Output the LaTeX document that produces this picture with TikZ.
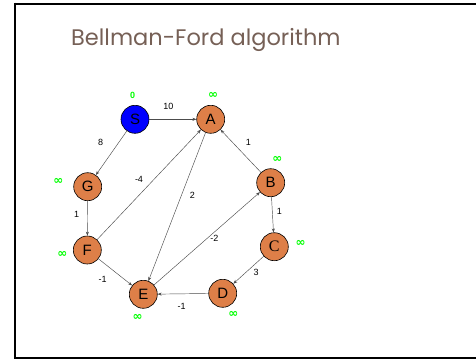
\documentclass[tikz,border=0pt]{standalone}
\usepackage{fontspec}
\setmainfont{Liberation Sans}
\newfontfamily\titlefont{Poppins}
\newfontfamily\serifnode{Liberation Serif}
\newfontfamily\symfont{DejaVu Sans}
\usetikzlibrary{arrows.meta}
\definecolor{nodeorange}{RGB}{222,127,72}
\definecolor{titlebrown}{RGB}{118,96,86}
\definecolor{infgreen}{RGB}{0,255,0}
\newcommand{\infsym}{{\symfont\bfseries\fontsize{12}{12}\selectfont ∞}}
\begin{document}
\begin{tikzpicture}[x=1pt,y=-1pt,
  vtx/.style={circle,draw=black,line width=0.6pt,fill=nodeorange,minimum size=28pt,inner sep=0pt,font=\fontsize{15}{15}\selectfont},
  src/.style={vtx,fill=blue},
  edge/.style={draw=black!70,line width=0.45pt,-{Stealth[length=4pt,width=3pt]}},
  wlab/.style={font=\fontsize{9}{9}\selectfont,inner sep=0pt},
  inflab/.style={font=\fontsize{9}{9}\selectfont\bfseries,text=infgreen,inner sep=0pt}]
\useasboundingbox (0,0) rectangle (476,359);
\draw[line width=2pt] (15,3.5) -- (480,3.5);
\draw[line width=2pt] (15,2.5) -- (15,357.5);
\draw[line width=2pt] (14,357.5) -- (480,357.5);
\node[anchor=west,text=titlebrown,font=\titlefont\fontsize{22.5}{22.5}\selectfont,inner sep=0pt] (title) at (71,40) {Bellman-Ford algorithm};
\node[src] (S) at (135,119.3) {S};
\node[vtx] (A) at (210.7,119.3) {A};
\node[vtx] (G) at (87.7,186.7) {G};
\node[vtx] (B) at (270.7,182.7) {B};
\node[vtx] (F) at (87.3,250) {F};
\node[vtx,font=\serifnode\fontsize{16}{16}\selectfont] (C) at (274.3,246.7) {C};
\node[vtx] (E) at (143.3,294.3) {E};
\node[vtx] (D) at (222.7,293.3) {D};
\draw[edge] (S) -- (A);
\draw[edge] (S) -- (G);
\draw[edge] (G) -- (F);
\draw[edge] (F) -- (A);
\draw[edge] (A) -- (E);
\draw[edge] (B) -- (A);
\draw[edge] (B) -- (C);
\draw[edge] (C) -- (D);
\draw[edge] (D) -- (E);
\draw[edge] (F) -- (E);
\draw[edge] (E) -- (B);
\node[wlab] (l10) at (168.3,106.7) {10};
\node[wlab] (l8) at (100.7,142.7) {8};
\node[wlab] (lm4) at (139,179.3) {-4};
\node[wlab] (l2) at (192.3,195) {2};
\node[wlab] (l1a) at (248.3,142.7) {1};
\node[wlab] (l1b) at (76.7,214.3) {1};
\node[wlab] (l1c) at (279.3,211.7) {1};
\node[wlab] (lm2) at (214.3,238.3) {-2};
\node[wlab] (l3) at (256,272.7) {3};
\node[wlab] (lm1a) at (102.7,279) {-1};
\node[wlab] (lm1b) at (181.7,306) {-1};
\node[inflab] (iS) at (132.7,95) {0};
\node[inflab] (iA) at (213,95) {\infsym};
\node[inflab] (iG) at (58.3,181.7) {\infsym};
\node[inflab] (iB) at (277.3,159) {\infsym};
\node[inflab] (iC) at (300.7,243.3) {\infsym};
\node[inflab] (iD) at (233.3,314.3) {\infsym};
\node[inflab] (iE) at (137.7,317.3) {\infsym};
\node[inflab] (iF) at (62.3,254) {\infsym};
\end{tikzpicture}
\end{document}
